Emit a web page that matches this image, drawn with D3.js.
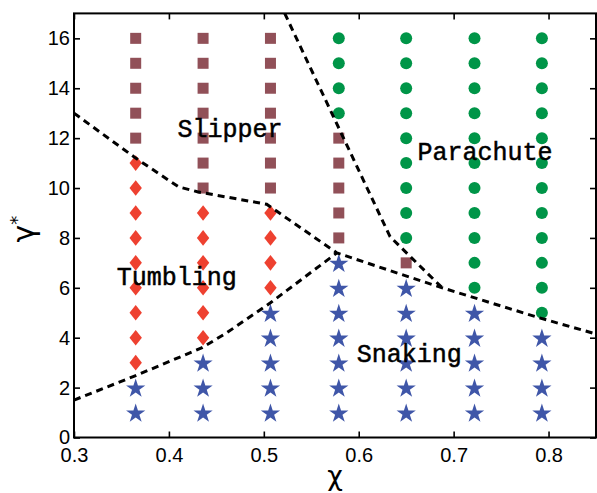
<!DOCTYPE html>
<meta charset="utf-8">
<style>
body { margin: 0; background: #fff; }
.tick text { font-family: "Liberation Sans", Arial, sans-serif; font-size: 20px; fill: #000; }
.tick line { stroke: #000; stroke-width: 1.6px; }
.domain { display: none; }
.regime { font-family: "Liberation Mono", "Courier New", monospace; font-size: 25px; fill: #000; stroke: #000; stroke-width: 0.5px; }
</style>
<html>
<body>
<div id="chart"></div>
<script src="https://d3js.org/d3.v7.min.js"></script>
<script>
// chi columns where simulations were run
var chi = [0.365, 0.436, 0.507, 0.579, 0.650, 0.722, 0.793];

// gamma* values of each regime, one list per chi column
var snaking   = [[1,2], [1,2,3], [1,2,3,4,5], [1,2,3,4,5,6,7], [1,2,3,4,5,6], [1,2,3,4,5], [1,2,3,4]];
var tumbling  = [[3,4,5,6,7,8,9,10,11], [4,5,6,7,8,9], [6,7,8,9], [], [], [], []];
var slipper   = [[12,13,14,15,16], [10,11,12,13,14,15,16], [10,11,12,13,14,15,16], [8,9,10,11,12], [7], [], []];
var parachute = [[], [], [], [13,14,15,16], [8,9,10,11,12,13,14,15,16], [6,7,8,9,10,11,12,13,14,15,16], [5,6,7,8,9,10,11,12,13,14,15,16]];

// dashed regime boundaries [chi, gamma*]
var boundaryUpper = [[0.3,13],[0.365,11.2],[0.41,10.05],[0.43,9.85],[0.503,9.35],[0.577,7.4],[0.64,6.6],[0.688,6.0],[0.79,4.8],[0.85,4.15]];
var boundaryLower = [[0.3,1.5],[0.363,2.45],[0.435,3.6],[0.461,4.2],[0.507,5.4],[0.577,7.4]];
var boundarySlip  = [[0.522,17],[0.633,8.05],[0.641,7.75],[0.688,6.0]];

var xTicks = [0.3, 0.4, 0.5, 0.6, 0.7, 0.8];
var yTicks = [0, 2, 4, 6, 8, 10, 12, 14, 16];

var labels = [
  {text: "Slipper",   x: 0.409, y: 12.04},
  {text: "Tumbling",  x: 0.345, y: 6.11},
  {text: "Parachute", x: 0.662, y: 11.12},
  {text: "Snaking",   x: 0.598, y: 3.03}
];

var W = 597, H = 493;
var svg = d3.select("#chart").append("svg").attr("width", W).attr("height", H);

var x = d3.scaleLinear().domain([0.3, 0.85]).range([74, 596]);
var y = d3.scaleLinear().domain([0, 17]).range([437.5, 13.4]);

function flatten(groups) {
  var out = [];
  groups.forEach(function(g, i) { g.forEach(function(v) { out.push([chi[i], v]); }); });
  return out;
}

// markers
svg.append("g").selectAll("rect").data(flatten(slipper)).enter().append("rect")
  .attr("x", function(d) { return x(d[0]) - 5.5; })
  .attr("y", function(d) { return y(d[1]) - 5.5; })
  .attr("width", 11).attr("height", 11)
  .attr("fill", "#915058");

svg.append("g").selectAll("path").data(flatten(tumbling)).enter().append("path")
  .attr("d", "M0,-7.8L6.2,0L0,7.8L-6.2,0Z")
  .attr("transform", function(d) { return "translate(" + x(d[0]) + "," + y(d[1]) + ")"; })
  .attr("fill", "#EE4130");

svg.append("g").selectAll("circle").data(flatten(parachute)).enter().append("circle")
  .attr("cx", function(d) { return x(d[0]); })
  .attr("cy", function(d) { return y(d[1]); })
  .attr("r", 6)
  .attr("fill", "#009548");

var star = d3.symbol().type(d3.symbolStar).size(115);
svg.append("g").selectAll("path").data(flatten(snaking)).enter().append("path")
  .attr("d", star)
  .attr("transform", function(d) { return "translate(" + x(d[0]) + "," + (y(d[1]) + 1) + ")"; })
  .attr("fill", "#3F56A8");

// boundaries
var line = d3.line().x(function(d) { return x(d[0]); }).y(function(d) { return y(d[1]); });
svg.append("clipPath").attr("id", "clip").append("rect")
  .attr("x", 74).attr("y", 13.4).attr("width", 522).attr("height", 424.1);
svg.append("g").attr("clip-path", "url(#clip)").selectAll("path")
  .data([boundaryUpper, boundaryLower, boundarySlip]).enter().append("path")
  .attr("d", line)
  .attr("fill", "none")
  .attr("stroke", "#000")
  .attr("stroke-width", 3)
  .attr("stroke-dasharray", "7,5");

// axes with inward ticks on all sides
svg.append("g").attr("transform", "translate(0,437.5)")
  .call(d3.axisBottom(x).tickValues(xTicks).tickFormat(d3.format(".1f")).tickSizeInner(-6).tickSizeOuter(0).tickPadding(10));
svg.append("g").attr("transform", "translate(0,13.4)")
  .call(d3.axisTop(x).tickValues(xTicks).tickFormat("").tickSizeInner(-6).tickSizeOuter(0));
svg.append("g").attr("transform", "translate(74,0)")
  .call(d3.axisLeft(y).tickValues(yTicks).tickSizeInner(-6).tickSizeOuter(0).tickPadding(4));
svg.append("g").attr("transform", "translate(596,0)")
  .call(d3.axisRight(y).tickValues(yTicks).tickFormat("").tickSizeInner(-6).tickSizeOuter(0));

svg.append("rect")
  .attr("x", 74).attr("y", 13.4).attr("width", 522).attr("height", 424.1)
  .attr("fill", "none").attr("stroke", "#000").attr("stroke-width", 2);

// regime labels
svg.append("g").selectAll("text").data(labels).enter().append("text")
  .attr("class", "regime")
  .attr("x", function(d) { return x(d.x); })
  .attr("y", function(d) { return y(d.y); })
  .text(function(d) { return d.text; });

// axis titles
svg.append("text")
  .attr("x", 335).attr("y", 485)
  .attr("text-anchor", "middle")
  .style("font-family", "DejaVu Sans, sans-serif")
  .style("font-size", "27px")
  .text("χ");

var yt = svg.append("text")
  .attr("transform", "translate(34,229) rotate(-90)")
  .attr("text-anchor", "middle")
  .style("font-family", "DejaVu Sans, sans-serif")
  .style("font-size", "30px");
yt.append("tspan").text("γ");
yt.append("tspan").attr("dy", "-11").style("font-size", "18px").text("*");
</script>
</body>
</html>
